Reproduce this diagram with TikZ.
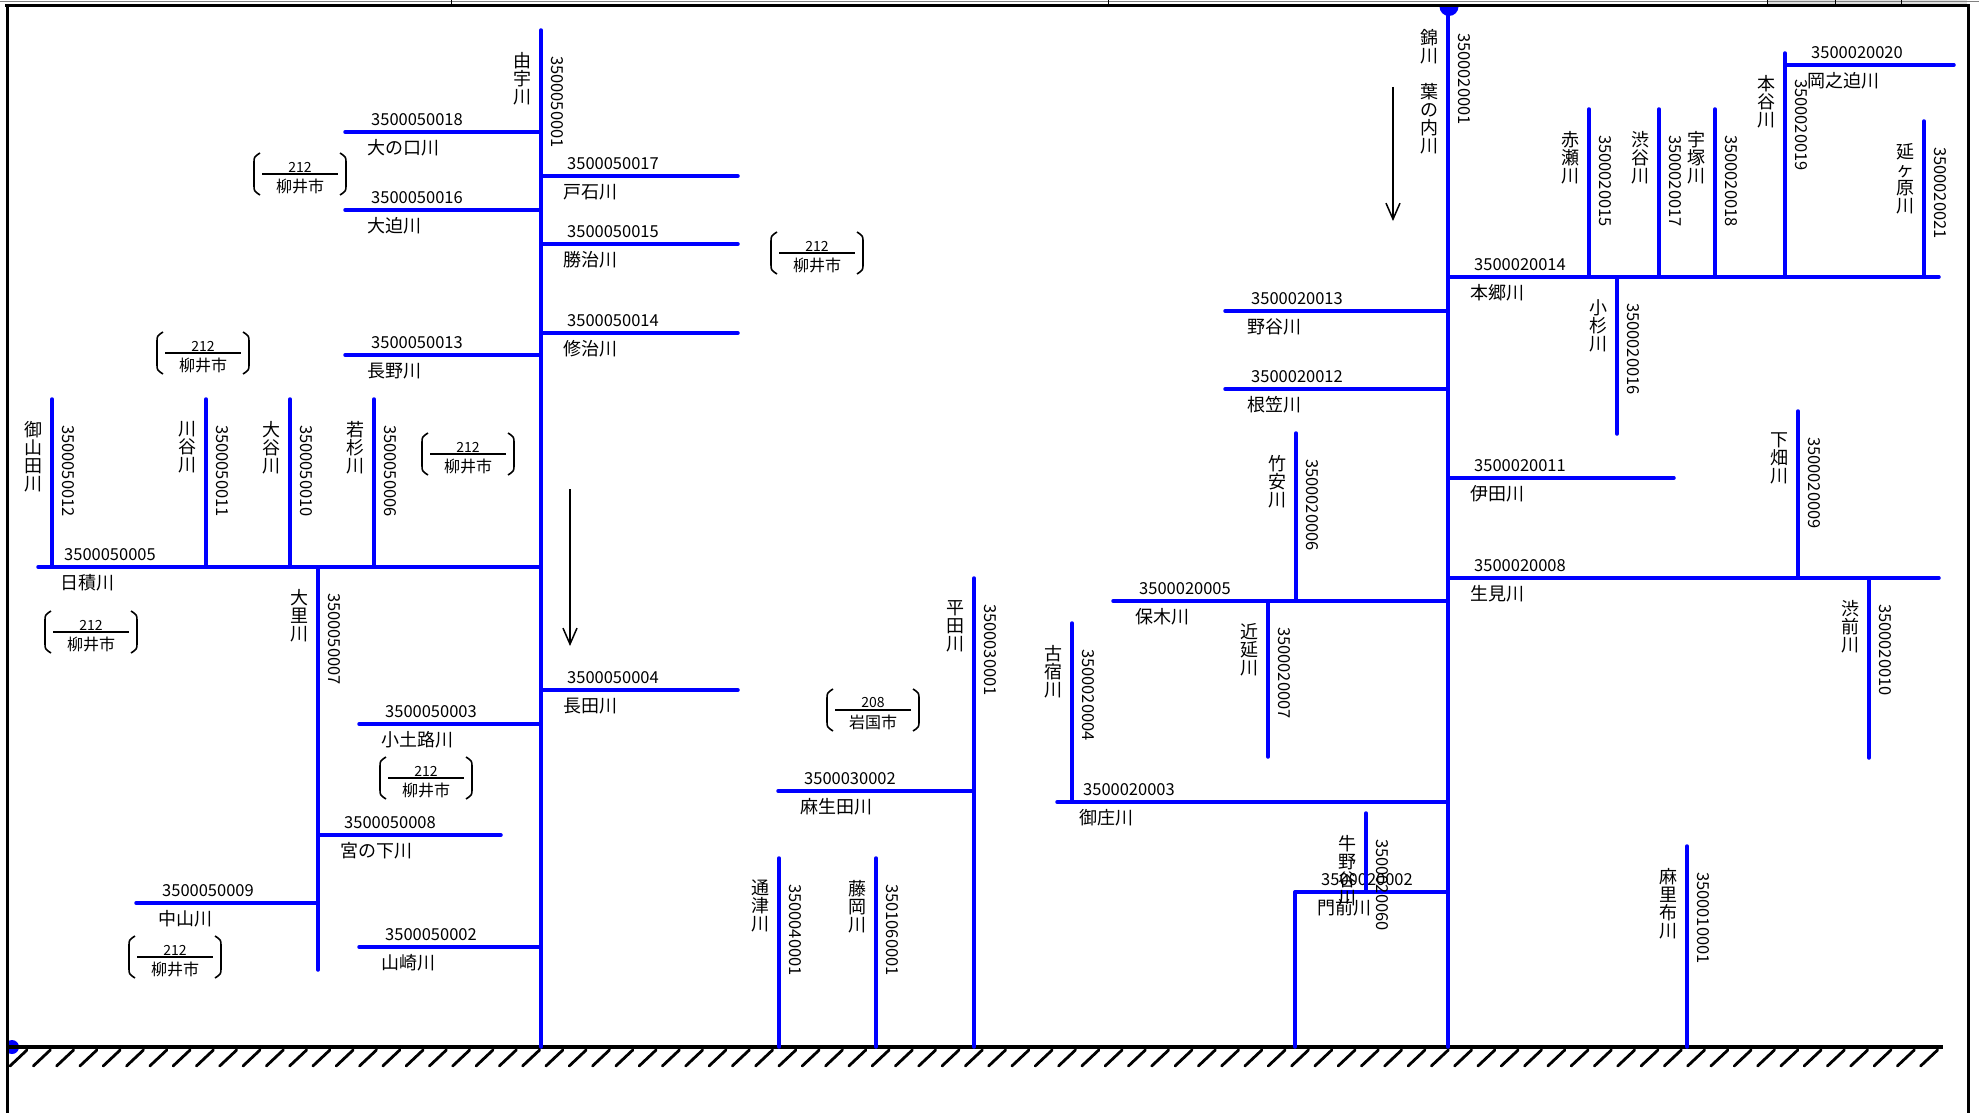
\documentclass[tikz,border=0pt]{standalone}
\usepackage{fontspec}
\setmainfont{Noto Sans CJK JP}
\usetikzlibrary{arrows.meta}
\definecolor{rblue}{RGB}{0,0,255}
\tikzset{
  riv/.style={line width=3.5pt, draw=rblue, line cap=round},
  num/.style={font=\fontsize{16.5}{16.5}\selectfont, inner sep=0pt, anchor=west},
  vnum/.style={num, rotate=-90},
  nm/.style={font=\fontsize{18}{18}\selectfont, inner sep=0pt, anchor=west},
  vnm/.style={font=\fontsize{18}{18}\selectfont, inner sep=0pt, anchor=north, align=center},
  brk/.style={line width=1.6pt, black},
  flow/.style={line width=1.5pt, black, -{Straight Barb[length=16pt,width=14pt]}},
  hatchline/.style={line width=2.8pt, black, line cap=round},
  frameline/.style={line width=3pt, black}
}
\newcommand\hbranch[6]{%
  \coordinate (#1a) at (#2,#4); \coordinate (#1b) at (#3,#4);
  \draw[riv] (#1a) -- (#1b);
  \node[num] (#1n) at (#2+26,#4-12) {#5};
  \node[nm] (#1m) at (#2+22,#4+16) {#6};
}
\newcommand\vbranch[6]{%
  \coordinate (#1a) at (#2,#3); \coordinate (#1b) at (#2,#4);
  \draw[riv] (#1a) -- (#1b);
  \node[vnum] (#1n) at (#2+16,#3+26) {#5};
  \node[vnm] (#1m) at (#2-19,#3+22) {#6};
}
\newcommand\citytag[5]{%
  \begin{scope}[shift={(#2,#3)}]
    \draw[brk] (-40,-21) .. controls (-46,-17) .. (-46,-11) -- (-46,11) .. controls (-46,17) .. (-40,21);
    \draw[brk] (40,-21) .. controls (46,-17) .. (46,-11) -- (46,11) .. controls (46,17) .. (40,21);
    \draw[line width=1.5pt] (-38,0) -- (38,0);
    \node[font=\fontsize{14}{14}\selectfont, inner sep=0pt] (#1u) at (0,-7) {#4};
    \node[font=\fontsize{16}{16}\selectfont, inner sep=0pt] (#1d) at (0,12) {#5};
  \end{scope}
}
\begin{document}
\begin{tikzpicture}[x=1pt,y=-1pt]
\useasboundingbox (0,0) rectangle (1979,1113);
\fill[white] (0,0) rectangle (1979,1113);
% title block remnants at top
\fill[gray!25] (1767,0) rectangle (1967,4);
\draw[line width=0.8pt, gray] (0,1) -- (1979,1);
\draw[line width=0.8pt] (451,0) -- (451,6);
\draw[line width=0.8pt] (1108,0) -- (1108,6);
\draw[line width=0.8pt] (1767,0) -- (1767,6);
\draw[line width=0.8pt] (1835,0) -- (1835,6);
\draw[line width=0.8pt] (1901,0) -- (1901,6);
% dots at river mouths / sources
\begin{scope}
  \clip (7,6) rectangle (1968,1113);
  \fill[rblue] (1449,6.5) circle (9.5);
  \fill[rblue] (12,1047) circle (7);
\end{scope}
% ground line with hatching
\draw[line width=3.5pt] (7,1047) -- (1943,1047);
\foreach \k in {0,...,82} {
  \draw[hatchline] ({10+23.3*\k},1066) -- ({27+23.3*\k},1050);
}
% ===== Yuu river system =====
\vbranch{ma}{541}{30}{1047}{3500050001}{由\\宇\\川}
\hbranch{b18}{345}{541}{132}{3500050018}{大の口川}
\hbranch{b17}{541}{738}{176}{3500050017}{戸石川}
\hbranch{b16}{345}{541}{210}{3500050016}{大迫川}
\hbranch{b15}{541}{738}{244}{3500050015}{勝治川}
\hbranch{b14}{541}{738}{333}{3500050014}{修治川}
\hbranch{b13}{345}{541}{355}{3500050013}{長野川}
\hbranch{b05}{38}{541}{567}{3500050005}{日積川}
\vbranch{v12}{52}{399}{567}{3500050012}{御\\山\\田\\川}
\vbranch{v11}{206}{399}{567}{3500050011}{川\\谷\\川}
\vbranch{v10}{290}{399}{567}{3500050010}{大\\谷\\川}
\vbranch{v06}{374}{399}{567}{3500050006}{若\\杉\\川}
\vbranch{v07}{318}{567}{970}{3500050007}{大\\里\\川}
\hbranch{b04}{541}{738}{690}{3500050004}{長田川}
\hbranch{b03}{359}{541}{724}{3500050003}{小土路川}
\hbranch{b08}{318}{501}{835}{3500050008}{宮の下川}
\hbranch{b09}{136}{318}{903}{3500050009}{中山川}
\hbranch{b02}{359}{541}{947}{3500050002}{山崎川}
% ===== middle rivers =====
\vbranch{w01}{779}{858}{1047}{3500040001}{通\\津\\川}
\vbranch{x01}{876}{858}{1047}{3501060001}{藤\\岡\\川}
\vbranch{c01}{974}{578}{1047}{3500030001}{平\\田\\川}
\hbranch{c02}{778}{974}{791}{3500030002}{麻生田川}
% ===== Nishiki river system =====
\vbranch{mb}{1448}{7}{1047}{3500020001}{錦\\川\\　\\葉\\の\\内\\川}
\hbranch{d14}{1448}{1939}{277}{3500020014}{本郷川}
\vbranch{e15}{1589}{109}{277}{3500020015}{赤\\瀬\\川}
\vbranch{e17}{1659}{109}{277}{3500020017}{渋\\谷\\川}
\vbranch{e18}{1715}{109}{277}{3500020018}{宇\\塚\\川}
\vbranch{e19}{1785}{53}{277}{3500020019}{本\\谷\\川}
\hbranch{d20}{1785}{1954}{65}{3500020020}{岡之迫川}
\vbranch{e21}{1924}{121}{277}{3500020021}{延\\ヶ\\原\\川}
\vbranch{e16}{1617}{277}{434}{3500020016}{小\\杉\\川}
\hbranch{d13}{1225}{1448}{311}{3500020013}{野谷川}
\hbranch{d12}{1225}{1448}{389}{3500020012}{根笠川}
\hbranch{d11}{1448}{1674}{478}{3500020011}{伊田川}
\vbranch{e09}{1798}{411}{578}{3500020009}{下\\畑\\川}
\hbranch{d08}{1448}{1939}{578}{3500020008}{生見川}
\vbranch{e10}{1869}{578}{758}{3500020010}{渋\\前\\川}
\vbranch{e06}{1296}{433}{601}{3500020006}{竹\\安\\川}
\hbranch{d05}{1113}{1448}{601}{3500020005}{保木川}
\vbranch{e07}{1268}{601}{757}{3500020007}{近\\延\\川}
\vbranch{e04}{1072}{623}{802}{3500020004}{古\\宿\\川}
\hbranch{d03}{1057}{1448}{802}{3500020003}{御庄川}
\hbranch{d02}{1295}{1448}{892}{3500020002}{門前川}
\coordinate (d02g) at (1295,1047);
\draw[riv] (d02a) -- (d02g);
\vbranch{e60}{1366}{813}{892}{3500020060}{牛\\野\\谷\\川}
\vbranch{f01}{1687}{846}{1047}{3500010001}{麻\\里\\布\\川}
% ===== city tags =====
\citytag{t1}{300}{174}{212}{柳井市}
\citytag{t2}{203}{353}{212}{柳井市}
\citytag{t3}{468}{454}{212}{柳井市}
\citytag{t4}{91}{632}{212}{柳井市}
\citytag{t5}{426}{778}{212}{柳井市}
\citytag{t6}{175}{957}{212}{柳井市}
\citytag{t7}{817}{253}{212}{柳井市}
\citytag{t8}{873}{710}{208}{岩国市}
% ===== flow arrows =====
\coordinate (a1s) at (570,489); \coordinate (a1e) at (570,646);
\draw[flow] (a1s) -- (a1e);
\coordinate (a2s) at (1393,87); \coordinate (a2e) at (1393,221);
\draw[flow] (a2s) -- (a2e);
% ===== frame =====
\draw[frameline] (5,6) -- (1969.5,6);
\draw[frameline] (7,6) -- (7,1113);
\draw[frameline] (1968,6) -- (1968,1113);
\end{tikzpicture}
\end{document}
